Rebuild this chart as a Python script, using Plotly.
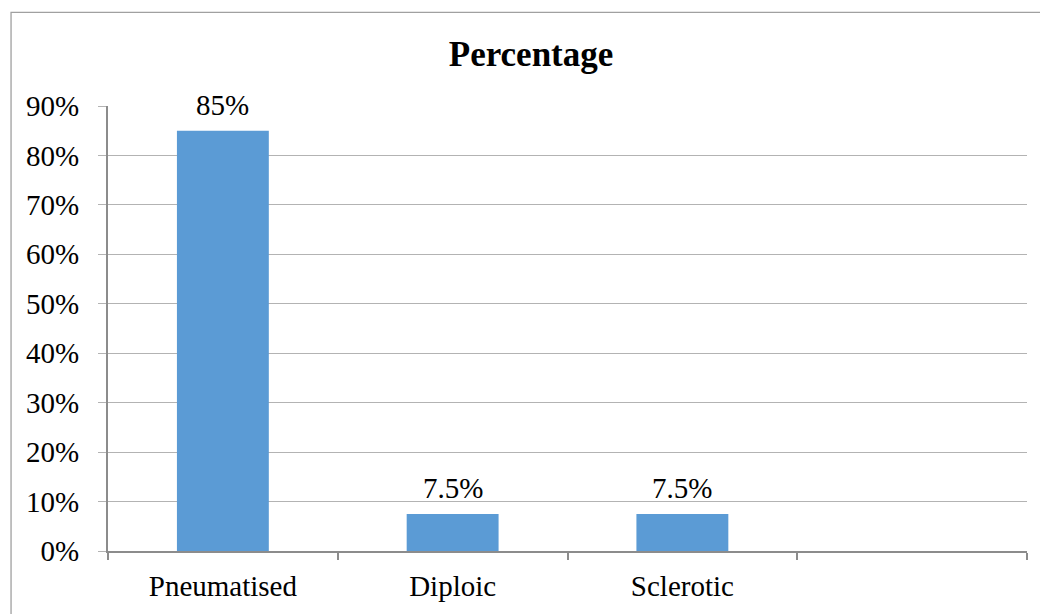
import plotly.graph_objects as go

# Category slots (the fourth slot is left empty) and their percentages
categories = ["Pneumatised", "Diploic", "Sclerotic", " "]
percentages = [85, 7.5, 7.5, None]
value_labels = ["85%", "7.5%", "7.5%", ""]
y_tick_values = [0, 10, 20, 30, 40, 50, 60, 70, 80, 90]
y_tick_labels = ["0%", "10%", "20%", "30%", "40%", "50%", "60%", "70%", "80%", "90%"]

serif = "Liberation Serif, Times New Roman, serif"
bar_color = "#5b9bd5"
grid_color = "#b3b3b3"
axis_color = "#8c8c8c"

fig = go.Figure(
    go.Bar(
        x=categories,
        y=percentages,
        width=0.4,
        marker=dict(color=bar_color, line=dict(width=0)),
        hoverinfo="skip",
    )
)

# Value labels above each bar
for cat, val, lab in zip(categories, percentages, value_labels):
    if val is None:
        continue
    fig.add_annotation(
        x=cat, y=val, text=lab, showarrow=False,
        yanchor="bottom", yshift=8,
        font=dict(family=serif, size=29, color="black"),
    )

# Chart frame
fig.add_shape(
    type="rect", xref="paper", yref="paper",
    x0=-0.1055, x1=1.03, y0=-0.2, y1=1.2103,
    line=dict(color="#a0a0a0", width=1.3), fillcolor="rgba(0,0,0,0)",
    layer="below",
)

fig.update_layout(
    width=1040, height=614,
    margin=dict(l=108, r=13, t=106, b=61),
    paper_bgcolor="white", plot_bgcolor="white",
    showlegend=False,
    title=dict(
        text="<b>Percentage</b>",
        x=0.5106, xref="container", xanchor="center",
        y=1 - 54 / 614, yref="container", yanchor="middle",
        font=dict(family=serif, size=35, color="black"),
    ),
    xaxis=dict(
        type="category",
        categoryorder="array", categoryarray=categories,
        range=[-0.5, 3.5],
        showgrid=False,
        showline=True, linecolor=axis_color, linewidth=2,
        ticks="outside", tickson="boundaries", ticklen=7,
        tickcolor=axis_color, tickwidth=1.5,
        ticklabelstandoff=8,
        tickfont=dict(family=serif, size=29, color="black"),
        fixedrange=True,
    ),
    yaxis=dict(
        range=[0, 90],
        tickvals=y_tick_values, ticktext=y_tick_labels,
        showgrid=True, gridcolor=grid_color, gridwidth=1.3,
        zeroline=False,
        showline=True, linecolor=axis_color, linewidth=2,
        ticks="outside", ticklen=8, tickcolor=grid_color, tickwidth=1.3,
        ticklabelstandoff=13,
        tickfont=dict(family=serif, size=29, color="black"),
        fixedrange=True,
    ),
)

fig.write_html("out.html")
